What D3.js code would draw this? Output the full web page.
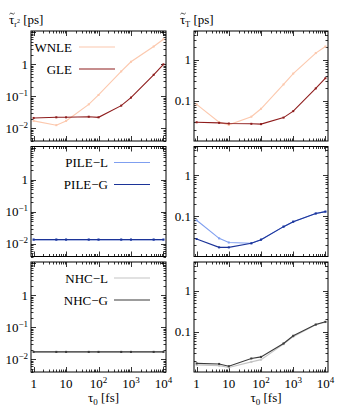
<!DOCTYPE html>
<html>
<head>
<meta charset="utf-8">
<script src="https://cdn.jsdelivr.net/npm/d3@7"></script>
<style>
  body { margin: 0; background: #fff; }
  svg text { font-family: "Liberation Serif", "DejaVu Serif", serif; fill: #000; }
</style>
</head>
<body>
<script>
const width = 340;
const height = 409;

// tau0 sampling points [fs]
const tau0 = [1, 5, 10, 50, 100, 500, 1000, 5000, 10000];

// left column: tau_r2 [ps]
const wnleR2 = [0.017, 0.0125, 0.017, 0.056, 0.11, 0.6, 1.2, 3.6, 6.1];
const gleR2 = [0.021, 0.022, 0.022, 0.023, 0.022, 0.051, 0.091, 0.47, 1.0];
const pileLR2 = [0.0135, 0.0135, 0.0135, 0.0135, 0.0135, 0.0135, 0.0135, 0.0135, 0.0135];
const pileGR2 = [0.0135, 0.0135, 0.0135, 0.0135, 0.0135, 0.0135, 0.0135, 0.0135, 0.0135];
const nhcLR2 = [0.017, 0.017, 0.017, 0.017, 0.017, 0.017, 0.017, 0.017, 0.017];
const nhcGR2 = [0.017, 0.017, 0.017, 0.017, 0.017, 0.017, 0.017, 0.017, 0.017];

// right column: tau_T [ps]
const wnleT = [0.082, 0.03, 0.026, 0.041, 0.064, 0.25, 0.46, 1.45, 2.1];
const gleT = [0.03, 0.029, 0.028, 0.0275, 0.027, 0.039, 0.056, 0.2, 0.355];
const pileLT = [0.08, 0.029, 0.023, 0.022, 0.027, 0.056, 0.074, 0.117, 0.13];
const pileGT = [0.028, 0.0175, 0.0175, 0.022, 0.027, 0.056, 0.074, 0.117, 0.13];
const nhcLT = [0.0155, 0.015, 0.0135, 0.0185, 0.021, 0.05, 0.076, 0.148, 0.172];
const nhcGT = [0.017, 0.0165, 0.0145, 0.0224, 0.0245, 0.052, 0.08, 0.15, 0.175];

const seriesNames = [["WNLE", "GLE"], ["PILE\u2212L", "PILE\u2212G"], ["NHC\u2212L", "NHC\u2212G"]];
const rowColors = [["#fcc8ad", "#8e1c1c"], ["#7f9ff0", "#1c3498"], ["#c4c4c4", "#3a3a3a"]];
const leftData = [[wnleR2, gleR2], [pileLR2, pileGR2], [nhcLR2, nhcGR2]];
const rightData = [[wnleT, gleT], [pileLT, pileGT], [nhcLT, nhcGT]];

const xTicks = [1, 10, 100, 1000, 10000];
const leftYTicks = [0.01, 0.1, 1];
const rightYTicks = [0.1, 1];

const cols = [{ x0: 31, x1: 166 }, { x0: 194, x1: 328 }];
const rowTop = 31;
const rowH = 110;
const rowGap = 5.5;

const svg = d3.select("body").append("svg")
  .attr("width", width)
  .attr("height", height);

const pow10 = (v) => Math.round(Math.log10(v));

function minorTicks(domain) {
  const out = [];
  const lo = Math.floor(Math.log10(domain[0]));
  const hi = Math.ceil(Math.log10(domain[1]));
  for (let e = lo; e <= hi; e++) {
    for (let m = 1; m <= 9; m++) {
      const v = m * Math.pow(10, e);
      if (v >= domain[0] && v <= domain[1]) out.push(v);
    }
  }
  return out;
}

function drawPanel(col, row, data, yDomain, yMajor, yFmt) {
  const c = cols[col];
  const top = rowTop + row * (rowH + rowGap);
  const bottom = top + rowH;

  const x = d3.scaleLog().domain([0.83, 12000]).range([c.x0, c.x1]);
  const y = d3.scaleLog().domain(yDomain).range([bottom, top]);

  const g = svg.append("g");

  // ticks: major inward, minor shorter, mirrored on all four sides
  const xAll = minorTicks(x.domain());
  const yAll = minorTicks(y.domain());
  const isMajor = (v) => Math.abs(Math.log10(v) - Math.round(Math.log10(v))) < 1e-9;

  const tickG = g.append("g").attr("stroke", "#000").attr("stroke-width", 0.8);
  xAll.forEach((v) => {
    const len = isMajor(v) ? 5 : 2.5;
    const px = Math.round(x(v)) + 0.5;
    tickG.append("line").attr("x1", px).attr("x2", px).attr("y1", bottom).attr("y2", bottom - len);
    tickG.append("line").attr("x1", px).attr("x2", px).attr("y1", top).attr("y2", top + len);
  });
  yAll.forEach((v) => {
    const len = isMajor(v) ? 5 : 2.5;
    const py = Math.round(y(v)) + 0.5;
    tickG.append("line").attr("x1", c.x0).attr("x2", c.x0 + len).attr("y1", py).attr("y2", py);
    tickG.append("line").attr("x1", c.x1).attr("x2", c.x1 - len).attr("y1", py).attr("y2", py);
  });

  // frame
  g.append("rect")
    .attr("x", c.x0).attr("y", top)
    .attr("width", c.x1 - c.x0).attr("height", rowH)
    .attr("fill", "none").attr("stroke", "#000").attr("stroke-width", 1);

  // y tick labels
  yMajor.forEach((v) => {
    const t = g.append("text")
      .attr("x", c.x0 - 3)
      .attr("y", y(v) + 4.5)
      .attr("text-anchor", "end")
      .attr("font-size", 13);
    yFmt(t, v);
  });

  // x tick labels on bottom row only
  if (row === 2) {
    xTicks.forEach((v) => {
      const t = g.append("text")
        .attr("x", x(v))
        .attr("y", bottom + 16)
        .attr("text-anchor", "middle")
        .attr("font-size", 13);
      const e = pow10(v);
      if (e === 0) t.text("1");
      else if (e === 1) t.text("10");
      else {
        t.append("tspan").text("10");
        t.append("tspan").attr("font-size", 9).attr("dy", -5).text(e);
      }
    });
    const xl = g.append("text")
      .attr("x", (c.x0 + c.x1) / 2 + 5)
      .attr("y", bottom + 30)
      .attr("text-anchor", "middle")
      .attr("font-size", 13);
    xl.append("tspan").text("\u03c4");
    xl.append("tspan").attr("font-size", 9).attr("dy", 3).text("0");
    xl.append("tspan").attr("dy", -3).text(" [fs]");
  }

  // series lines and small markers
  const line = d3.line().x((d) => x(d[0])).y((d) => y(d[1]));
  [0, 1].forEach((k) => {
    const pts = tau0.map((t, i) => [t, data[k][i]]);
    g.append("path")
      .datum(pts)
      .attr("fill", "none")
      .attr("stroke", rowColors[row][k])
      .attr("stroke-width", 1.1)
      .attr("d", line);
    g.selectAll(null)
      .data(pts)
      .enter()
      .append("rect")
      .attr("x", (d) => x(d[0]) - 1)
      .attr("y", (d) => y(d[1]) - 1)
      .attr("width", 2)
      .attr("height", 2)
      .attr("fill", rowColors[row][k]);
  });
}

function fmtLeft(t, v) {
  const e = pow10(v);
  if (e === 0) { t.text("1"); return; }
  t.append("tspan").text("10");
  t.append("tspan").attr("font-size", 9).attr("dy", -5).text("\u2212" + Math.abs(e));
}

function fmtRight(t, v) {
  t.text(v === 1 ? "1" : "0.1");
}

for (let r = 0; r < 3; r++) {
  drawPanel(0, r, leftData[r], [0.004, 11], leftYTicks, fmtLeft);
  drawPanel(1, r, rightData[r], [0.0105, 5], rightYTicks, fmtRight);
}

// legends (left column only)
const legendPos = [
  { textX: 72, lineX0: 79, lineX1: 115 },
  { textX: 108, lineX0: 114, lineX1: 150 },
  { textX: 108, lineX0: 114, lineX1: 150 }
];
for (let r = 0; r < 3; r++) {
  const top = rowTop + r * (rowH + rowGap);
  [0, 1].forEach((k) => {
    const ly = top + 16 + k * 22;
    svg.append("text")
      .attr("x", legendPos[r].textX)
      .attr("y", ly + 4.5)
      .attr("text-anchor", "end")
      .attr("font-size", 13)
      .text(seriesNames[r][k]);
    svg.append("line")
      .attr("x1", legendPos[r].lineX0)
      .attr("x2", legendPos[r].lineX1)
      .attr("y1", ly)
      .attr("y2", ly)
      .attr("stroke", rowColors[r][k])
      .attr("stroke-width", 1.1);
  });
}

// column titles; the tilde over tau is a small drawn curve
function tilde(x0, y0) {
  svg.append("path")
    .attr("d", `M${x0},${y0 + 1.2} q1.3,-2 2.6,-0.6 q1.3,1.4 2.6,-0.6`)
    .attr("fill", "none")
    .attr("stroke", "#000")
    .attr("stroke-width", 0.7);
}

const t1 = svg.append("text").attr("x", 9).attr("y", 24).attr("font-size", 13);
t1.append("tspan").text("\u03c4");
t1.append("tspan").attr("font-size", 8).attr("dy", 3).text("r");
t1.append("tspan").attr("font-size", 6).attr("dy", -4).text("2");
t1.append("tspan").attr("dy", 1).text(" [ps]");
tilde(9.5, 13);

const t2 = svg.append("text").attr("x", 180).attr("y", 24).attr("font-size", 13);
t2.append("tspan").text("\u03c4");
t2.append("tspan").attr("font-size", 8).attr("dy", 3).text("T");
t2.append("tspan").attr("dy", -3).text(" [ps]");
tilde(180.5, 13);
</script>
</body>
</html>
